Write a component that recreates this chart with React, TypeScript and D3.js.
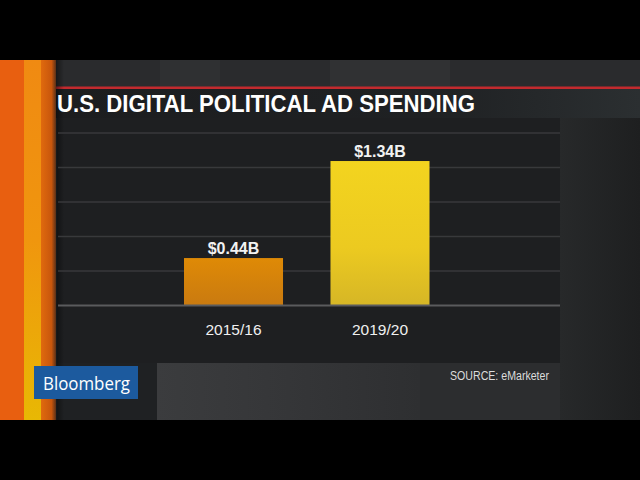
import React from "react";
import * as d3 from "d3";

// Spending by election cycle, in billions of dollars
const categories = ["2015/16", "2019/20"];
const spending = [0.44, 1.34];
const valueLabels = ["$0.44B", "$1.34B"];
const gridValues = [0.32, 0.64, 0.96, 1.28, 1.6];

const W = 640;
const H = 480;

const x = d3
  .scaleBand<string>()
  .domain(categories)
  .range([184, 429.5])
  .paddingInner(0.324)
  .paddingOuter(0);

const y = d3.scaleLinear().domain([0, 1.6]).range([305.5, 133]);

const barFills = ["url(#barOrange)", "url(#barYellow)"];

export default function App() {
  const sans = "'Liberation Sans', Arial, Helvetica, sans-serif";
  return (
    <svg
      width={W}
      height={H}
      viewBox={`0 0 ${W} ${H}`}
      style={{ position: "absolute", left: 0, top: 0, display: "block" }}
    >
      <defs>
        <linearGradient id="barOrange" x1="0" y1="0" x2="0" y2="1">
          <stop offset="0" stopColor="#df8a06" />
          <stop offset="1" stopColor="#c97a10" />
        </linearGradient>
        <linearGradient id="barYellow" x1="0" y1="0" x2="0" y2="1">
          <stop offset="0" stopColor="#f3d41f" />
          <stop offset="0.6" stopColor="#ecca20" />
          <stop offset="1" stopColor="#d6b626" />
        </linearGradient>
        <linearGradient id="stripeMid" x1="0" y1="0" x2="0" y2="1">
          <stop offset="0" stopColor="#f08a12" />
          <stop offset="0.5" stopColor="#f0960e" />
          <stop offset="1" stopColor="#e8b804" />
        </linearGradient>
        <linearGradient id="stripeOuter" x1="0" y1="0" x2="1" y2="0">
          <stop offset="0" stopColor="#e06a0e" />
          <stop offset="0.7" stopColor="#c8560c" />
          <stop offset="1" stopColor="#5a3018" />
        </linearGradient>
        <linearGradient id="titleBand" x1="0" y1="0" x2="1" y2="0">
          <stop offset="0" stopColor="#1c1d1f" />
          <stop offset="0.65" stopColor="#1f2123" />
          <stop offset="1" stopColor="#2b2f31" />
        </linearGradient>
        <linearGradient id="leftShadow" x1="0" y1="0" x2="1" y2="0">
          <stop offset="0" stopColor="#000" stopOpacity="0.45" />
          <stop offset="1" stopColor="#000" stopOpacity="0" />
        </linearGradient>
        <linearGradient id="bottomBand" x1="0" y1="0" x2="1" y2="0">
          <stop offset="0" stopColor="#3b3c3e" />
          <stop offset="0.5" stopColor="#353638" />
          <stop offset="1" stopColor="#2e2f31" />
        </linearGradient>
        <linearGradient id="rightWall" x1="0" y1="0" x2="1" y2="0">
          <stop offset="0" stopColor="#27292a" />
          <stop offset="1" stopColor="#1e1f20" />
        </linearGradient>
      </defs>

      {/* letterbox */}
      <rect x={0} y={0} width={W} height={H} fill="#000" />

      {/* studio backdrop */}
      <rect x={0} y={60} width={W} height={360} fill="#2a2b2d" />
      <rect x={160} y={60} width={60} height={28} fill="#2f3032" />
      <rect x={330} y={60} width={120} height={28} fill="#303133" />
      <rect x={560} y={118} width={80} height={302} fill="url(#rightWall)" />

      {/* lower band behind logo */}
      <rect x={57} y={363} width={100} height={57} fill="#1f2123" />
      <rect x={157} y={363} width={263} height={57} fill="url(#bottomBand)" />
      <rect x={420} y={363} width={140} height={57} fill="#2c2d2f" />

      {/* red rule above title */}
      <rect x={55} y={86.5} width={W - 55} height={2.5} fill="#c22a2e" />

      {/* title band */}
      <rect x={55} y={89} width={W - 55} height={29} fill="url(#titleBand)" />

      {/* chart panel */}
      <rect x={57} y={118} width={503} height={245} fill="#1e1f21" />

      {/* left stripes */}
      <rect x={0} y={60} width={24} height={360} fill="#e85f10" />
      <rect x={24} y={60} width={17} height={360} fill="url(#stripeMid)" />
      <rect x={41} y={60} width={15} height={360} fill="url(#stripeOuter)" />
      <rect x={56} y={60} width={8} height={360} fill="url(#leftShadow)" />

      {/* gridlines */}
      {gridValues.map((v) => (
        <line
          key={v}
          x1={58}
          x2={560}
          y1={y(v)}
          y2={y(v)}
          stroke="#38393b"
          strokeWidth={1.5}
        />
      ))}

      {/* bars */}
      {categories.map((c, i) => (
        <rect
          key={c}
          x={x(c)}
          y={y(spending[i])}
          width={x.bandwidth()}
          height={y(0) - y(spending[i])}
          fill={barFills[i]}
        />
      ))}

      {/* baseline */}
      <line x1={58} x2={560} y1={y(0)} y2={y(0)} stroke="#5a5b5d" strokeWidth={2} />

      {/* value labels */}
      {categories.map((c, i) => (
        <text
          key={c}
          x={(x(c) ?? 0) + x.bandwidth() / 2}
          y={y(spending[i]) - 4}
          textAnchor="middle"
          fontFamily={sans}
          fontWeight="bold"
          fontSize={16}
          fill="#f2f2f2"
        >
          {valueLabels[i]}
        </text>
      ))}

      {/* category labels */}
      {categories.map((c) => (
        <text
          key={c}
          x={(x(c) ?? 0) + x.bandwidth() / 2}
          y={334.5}
          textAnchor="middle"
          fontFamily={sans}
          fontSize={15.5}
          fill="#f0f0f0"
        >
          {c}
        </text>
      ))}

      {/* title */}
      <text
        x={57}
        y={112}
        fontFamily={sans}
        fontWeight="bold"
        fontSize={23.5}
        fill="#ffffff"
        textLength={418}
        lengthAdjust="spacingAndGlyphs"
      >
        U.S. DIGITAL POLITICAL AD SPENDING
      </text>

      {/* source */}
      <text
        x={549}
        y={380}
        textAnchor="end"
        fontFamily={sans}
        fontSize={12}
        fill="#dcdcdc"
        textLength={99}
        lengthAdjust="spacingAndGlyphs"
      >
        SOURCE: eMarketer
      </text>

      {/* logo */}
      <rect x={34} y={366} width={104} height={33} fill="#1c5a9e" />
      <text
        x={43}
        y={389.5}
        fontFamily="'Open Sans', 'Noto Sans', sans-serif"
        fontWeight={500}
        fontSize={18}
        fill="#ffffff"
        textLength={87}
        lengthAdjust="spacingAndGlyphs"
      >
        Bloomberg
      </text>
    </svg>
  );
}
